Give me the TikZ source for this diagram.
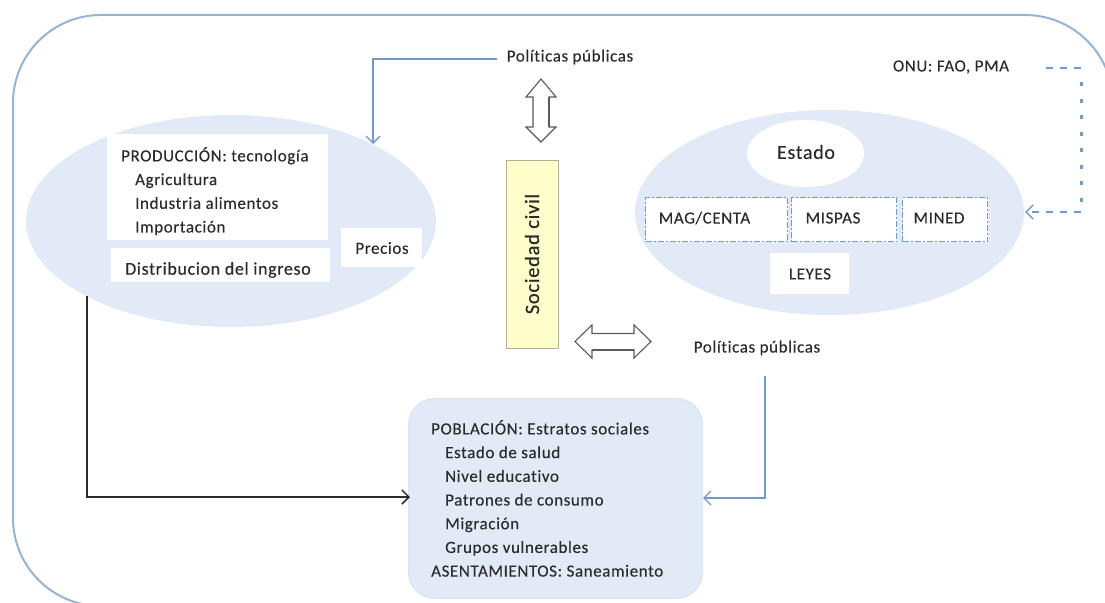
\documentclass[tikz,border=0pt]{standalone}
\usepackage{fontspec}
\setmainfont[LetterSpace=3.5,Ligatures=NoCommon,FakeBold=0.2]{Carlito}
\newfontfamily\socfont[LetterSpace=3.5,Ligatures=NoCommon,FakeBold=0.6]{Carlito}
\usetikzlibrary{shapes.geometric,arrows.meta}
\definecolor{framec}{HTML}{95B3D7}
\definecolor{linec}{HTML}{7398CC}
\definecolor{fillc}{HTML}{E1EAF6}
\definecolor{inkc}{HTML}{2B2B2B}
\definecolor{yellowc}{HTML}{FFFFCC}
\tikzset{
  lbl/.style={text=inkc,font=\fontsize{17}{17}\selectfont,inner sep=0pt},
  bloc/.style={lbl,align=left,anchor=north west,font=\fontsize{17}{23.7}\selectfont},
  whitebox/.style={fill=white,draw=none,inner sep=0pt,anchor=north west},
  blob/.style={ellipse,fill=fillc,draw=none,inner sep=0pt},
  dashbox/.style={whitebox,draw=linec,line width=1.2pt,dash pattern=on 6pt off 2pt on 2pt off 2pt},
  dbl/.style={draw=black!65,fill=white,line width=1.1pt,line join=miter},
  dblshade/.style={draw=black!65,line width=2.6pt},
  bluearrow/.style={draw=linec,line width=1.4pt,-{Straight Barb[length=7pt,width=14pt]}},
  blackarrow/.style={draw=inkc,line width=1.5pt,-{Straight Barb[length=7pt,width=14pt]}}
}
\begin{document}
\begin{tikzpicture}[x=1pt,y=-1pt]
\useasboundingbox (0,0) rectangle (1105,602);
\clip (0,0) rectangle (1105,602);
\draw[framec,line width=2pt,rounded corners=88pt] (1113,300) -- (1113,15) -- (13,15) -- (13,606) -- (110,606);

% left ellipse
\node[blob,minimum width=410pt,minimum height=212pt] (prod) at (231,221) {};
\node[whitebox,minimum width=221pt,minimum height=106pt] (prodbox) at (107,134) {};
\node[bloc] (prodtxt) at (121,147) {PRODUCCIÓN: tecnología\\\hspace*{14pt}Agricultura\\\hspace*{14pt}Industria alimentos\\\hspace*{14pt}Importación};
\node[whitebox,minimum width=219pt,minimum height=34pt] (distbox) at (111,248) {};
\node[lbl,anchor=west,font=\fontsize{18}{18}\selectfont] (disttxt) at (125,270) {Distribucion del ingreso};
\node[whitebox,minimum width=81pt,minimum height=39pt] (precbox) at (341,228) {};
\node[lbl] (prectxt) at (382,248) {Precios};

% right ellipse
\node[blob,minimum width=389pt,minimum height=205pt] (estadoblob) at (829.5,212.5) {};
\node[ellipse,fill=white,inner sep=0pt,minimum width=117pt,minimum height=67pt] (estado) at (805.5,153.5) {};
\node[lbl,font=\fontsize{20}{20}\selectfont] (estadotxt) at (806,152) {Estado};
\node[dashbox,minimum width=142pt,minimum height=44pt] (mag) at (645,197) {};
\node[lbl] (magtxt) at (704.5,218) {MAG/CENTA};
\node[dashbox,minimum width=105pt,minimum height=44pt] (mispas) at (791,197) {};
\node[lbl] (mispastxt) at (833,218) {MISPAS};
\node[dashbox,minimum width=85pt,minimum height=44pt] (mined) at (902,197) {};
\node[lbl] (minedtxt) at (939,218) {MINED};
\node[whitebox,minimum width=79pt,minimum height=41pt] (leyesbox) at (770,253) {};
\node[lbl] (leyes) at (810,274) {LEYES};

% centre
\node[fill=yellowc,draw=black!30!yellowc,line width=0.8pt,minimum width=52pt,minimum height=188pt,inner sep=0pt] (soc) at (532,254) {};
\node[lbl,rotate=90,font=\socfont\fontsize{20.5}{21}\selectfont] (soctxt) at (532,254) {Sociedad civil};
\draw[dbl] (541,79) -- (556,97) -- (549,97) -- (549,127) -- (556,127) -- (541,142) -- (526,127) -- (533,127) -- (533,97) -- (526,97) -- cycle;
\draw[dblshade] (549,97) -- (549,127);
\draw[dbl] (575,341.5) -- (592,325) -- (592,333.5) -- (634,333.5) -- (634,325) -- (651,341.5) -- (634,358) -- (634,350) -- (592,350) -- (592,358) -- cycle;
\draw[dblshade] (592,350) -- (634,350);

\node[lbl] (pol1) at (570,57) {Políticas públicas};
\node[lbl] (pol2) at (757,348) {Políticas públicas};
\node[lbl] (onu) at (951,67) {ONU: FAO, PMA};

% population
\node[whitebox,fill=fillc,draw=framec!35!white,line width=1pt,rounded corners=26pt,minimum width=294pt,minimum height=200pt] (pob) at (408,398) {};
\node[bloc] (pobtxt) at (431,420) {POBLACIÓN: Estratos sociales\\\hspace*{14pt}Estado de salud\\\hspace*{14pt}Nivel educativo\\\hspace*{14pt}Patrones de consumo\\\hspace*{14pt}Migración\\\hspace*{14pt}Grupos vulnerables\\ASENTAMIENTOS: Saneamiento};

% connectors
\coordinate (a1) at (497,59);
\coordinate (a2) at (373,144);
\draw[bluearrow] (a1) -| (a2);
\coordinate (b1) at (765,376);
\coordinate (b2) at (703,498);
\draw[bluearrow] (b1) |- (b2);
\coordinate (c1) at (87,296);
\coordinate (c2) at (410,497);
\draw[blackarrow] (c1) |- (c2);
\coordinate (d1) at (1046,68);
\coordinate (d2) at (1081,68);
\coordinate (d3) at (1081,212);
\coordinate (d4) at (1025,212);
\draw[linec,line width=1.5pt,dash pattern=on 7pt off 7pt] (d1) -- (d2);
\draw[linec,line width=3pt,dash pattern=on 4pt off 12.5pt] (d2) ++(0,14) -- (d3);
\draw[linec,line width=1.5pt,dash pattern=on 7pt off 7pt,-{Straight Barb[length=7pt,width=14pt]}] (d3) -- (d4);
\end{tikzpicture}
\end{document}
